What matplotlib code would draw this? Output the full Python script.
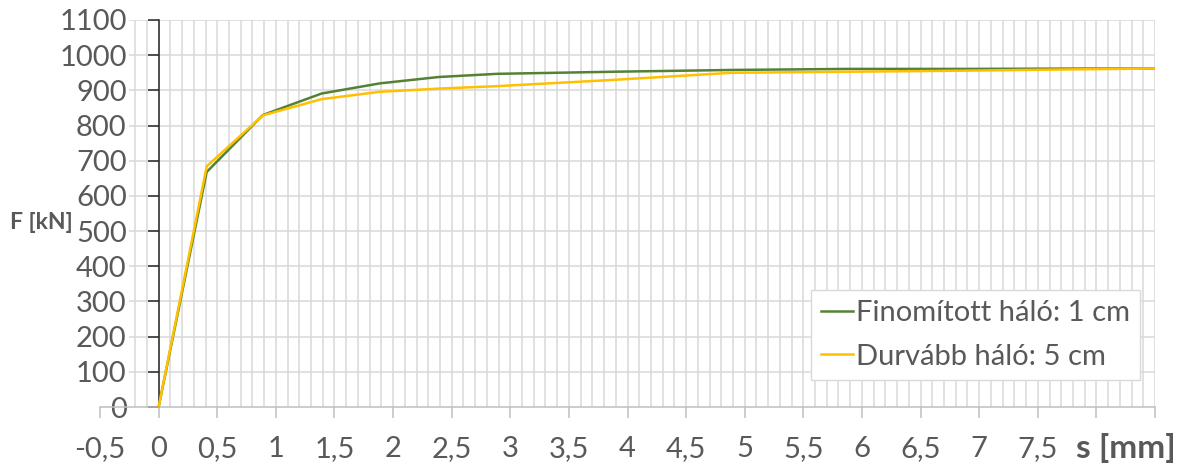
import matplotlib.pyplot as plt
import numpy as np

plt.rcParams['font.family'] = ['Lato', 'DejaVu Sans']

# Displacement s [mm] and force F [kN]
s_fine = [0, 0.41, 0.89, 1.39, 1.89, 2.39, 2.89, 3.89, 4.89, 5.89, 6.89, 7.89, 8.5]
f_fine = [0, 668, 830, 891, 920, 938, 947, 953, 958, 961, 961, 962, 962]

s_coarse = [0, 0.41, 0.89, 1.39, 1.89, 2.39, 2.89, 3.89, 4.89, 5.89, 6.89, 7.89, 8.5]
f_coarse = [0, 684, 829, 875, 896, 905, 912, 930, 950, 953, 956, 960, 962]

labels = ['Finomított háló: 1 cm', 'Durvább háló: 5 cm']
colors = ['#548235', '#FFC000']

x_ticks = np.arange(-0.5, 8.51, 0.5)
x_ticklabels = [('%g' % t).replace('.', ',') if t < 7.9 else '' for t in x_ticks]
y_ticks = np.arange(0, 1101, 100)

txt = '#595959'
grid = '#d9d9d9'

fig = plt.figure(figsize=(11.89, 4.66), dpi=100)
ax = fig.add_axes([100 / 1189, 59 / 466, 1055 / 1189, 387 / 466])

# gridlines (Excel style, hidden behind the value labels on the left)
ax.vlines(np.arange(-0.2, 8.51, 0.1), 0, 1100, color=grid, lw=1.1, zorder=0)
ax.hlines(y_ticks[1:], -0.25, 8.5, color=grid, lw=1.1, zorder=0)

ax.plot(s_fine, f_fine, color=colors[0], lw=1.8, label=labels[0], zorder=3)
ax.plot(s_coarse, f_coarse, color=colors[1], lw=1.8, label=labels[1], zorder=3)

ax.set_xlim(-0.5, 8.5)
ax.set_ylim(0, 1100)

for side in ['top', 'right']:
    ax.spines[side].set_visible(False)
ax.spines['left'].set_position(('data', 0))
ax.spines['left'].set_color('#262626')
ax.spines['left'].set_linewidth(1.1)
ax.spines['bottom'].set_color('#bfbfbf')
ax.spines['bottom'].set_linewidth(1.1)

ax.set_xticks(x_ticks)
ax.set_xticklabels(x_ticklabels)
ax.set_yticks(y_ticks)
ax.tick_params(axis='x', length=8, width=1.1, color='#bfbfbf', pad=13,
               labelsize=21, labelcolor=txt)
ax.tick_params(axis='y', length=8, width=1.1, color='#262626', pad=15,
               labelsize=21, labelcolor=txt)

fig.text(1126 / 1189, 8 / 466, 's [mm]', ha='center', va='baseline',
         fontsize=24, fontweight='bold', color=txt)
fig.text(41 / 1189, 1 - 222 / 466, 'F [kN]', ha='center', va='center',
         fontsize=16.5, fontweight='bold', color=txt)

leg = ax.legend(loc='lower right', bbox_to_anchor=(0.986, 0.07), borderaxespad=0,
                fontsize=21, handlelength=1.1, handletextpad=0.1,
                fancybox=False, framealpha=1, edgecolor=grid,
                borderpad=0.35, labelspacing=0.6)
for t in leg.get_texts():
    t.set_color(txt)

fig.savefig('out.png', dpi=100)
